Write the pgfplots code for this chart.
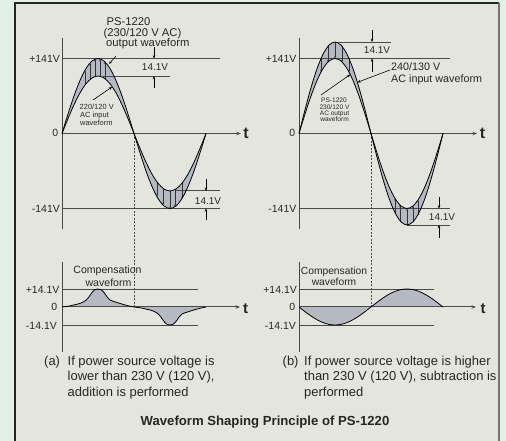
\documentclass[border=0pt]{standalone}
\usepackage{pgfplots}
\pgfplotsset{compat=1.18}
\usepackage{pgfplotstable}
\usetikzlibrary{arrows.meta}
\usepackage{fontspec}
\setmainfont{Liberation Sans}

\definecolor{outerbg}{HTML}{E1F1E7}
\definecolor{panelbg}{HTML}{E5E5DF}
\definecolor{band}{HTML}{B5B9C2}
\definecolor{axisgray}{HTML}{4A4A4A}

\newcommand\fs[1]{\fontsize{#1}{#1}\selectfont}

% upper waveforms: degrees, output (141 V), input (a), input (b)
\pgfplotstableread{
deg out inA inB
0 0 0 0
15 36.49 27.95 44.52
30 70.50 54.00 86.00
45 99.70 76.37 121.62
60 122.11 93.53 148.96
75 136.20 104.32 166.14
90 141.00 108.00 172.00
105 136.20 104.32 166.14
120 122.11 93.53 148.96
135 99.70 76.37 121.62
150 70.50 54.00 86.00
165 36.49 27.95 44.52
180 0 0 0
195 -36.49 -27.95 -44.52
210 -70.50 -54.00 -86.00
225 -99.70 -76.37 -121.62
240 -122.11 -93.53 -148.96
255 -136.20 -104.32 -166.14
270 -141.00 -108.00 -172.00
285 -136.20 -104.32 -166.14
300 -122.11 -93.53 -148.96
315 -99.70 -76.37 -121.62
330 -70.50 -54.00 -86.00
345 -36.49 -27.95 -44.52
360 0 0 0
}\upper

% compensation waveform (a): addition
\pgfplotstableread{
deg v
0 0
15 0.6
30 1.6
45 2.8
52.5 3.8
60 5.3
67.5 8.0
75 11.3
82.5 13.6
90 14.1
97.5 13.6
105 11.3
112.5 8.0
120 5.5
127.5 4.5
135 3.8
150 2.3
165 1.0
180 0
195 -0.6
210 -1.6
225 -2.8
232.5 -3.8
240 -5.3
247.5 -8.0
255 -11.3
262.5 -13.6
270 -14.1
277.5 -13.6
285 -11.3
292.5 -8.0
300 -5.5
307.5 -4.5
315 -3.8
330 -2.3
345 -1.0
360 0
}\compA

% compensation waveform (b): subtraction
\pgfplotstableread{
deg v
0 0
15 -3.65
30 -7.05
45 -9.97
60 -12.21
75 -13.62
90 -14.10
105 -13.62
120 -12.21
135 -9.97
150 -7.05
165 -3.65
180 0
195 3.65
210 7.05
225 9.97
240 12.21
255 13.62
270 14.10
285 13.62
300 12.21
315 9.97
330 7.05
345 3.65
360 0
}\compB

\tikzset{
  ar/.style={-{Stealth[length=3.2bp,width=2.6bp]}, line width=0.6bp, black},
  hat/.style={-{Stealth[length=2.2bp,width=1.8bp]}, line width=0.4bp, black!80},
  ax/.style={axisgray, line width=1bp},
  refl/.style={axisgray, line width=0.9bp},
  curve/.style={black, line width=0.8bp, smooth},
}

\begin{document}
\begin{tikzpicture}[x=1bp,y=1bp]
% backgrounds
\fill[outerbg] (0,0) rectangle (506,441);
\fill[panelbg] (15,-2) rectangle (499,438);
\draw[line width=1.5bp, black!85] (15,-2) -- (15,438) -- (499,438);
\draw[line width=2bp, black!55] (499,438) -- (499,-2);

% dashed zero-crossing guides
\draw[axisgray, line width=0.9bp, dash pattern=on 2bp off 1.5bp] (134,307) -- (134,134);
\draw[axisgray, line width=0.9bp, dash pattern=on 2bp off 1.5bp] (371,307) -- (371,134);

% ===== (a) upper =====
\begin{axis}[at={(62bp,211.74bp)}, anchor=south west, x=0.4bp, y=0.532bp,
  xmin=0, xmax=470, ymin=-180, ymax=180, hide axis, clip=false]
\addplot[fill=band, draw=none, smooth] table[x=deg,y=out] {\upper};
\addplot[fill=panelbg, draw=none, smooth] table[x=deg,y=inA] {\upper};
\draw[ax] (axis cs:0,-179.5) -- (axis cs:0,179.5);
\draw[ax, -{Stealth[length=4.5bp,width=3.5bp]}] (axis cs:0,0) -- (axis cs:447.5,0);
\addplot[refl] coordinates {(0,141) (395,141)};
\addplot[refl] coordinates {(102.5,108) (270,108)};
\addplot[refl] coordinates {(0,-141) (395,-141)};
\addplot[refl] coordinates {(282.5,-108) (395,-108)};
\draw[hat] (axis cs:57.5,91.1) -- (axis cs:57.5,118.9);
\draw[hat] (axis cs:70,101.5) -- (axis cs:70,132.5);
\draw[hat] (axis cs:82.5,107.1) -- (axis cs:82.5,139.8);
\draw[hat] (axis cs:95,107.6) -- (axis cs:95,140.5);
\draw[hat] (axis cs:107.5,103.0) -- (axis cs:107.5,134.5);
\draw[hat] (axis cs:237.5,-91.1) -- (axis cs:237.5,-118.9);
\draw[hat] (axis cs:252.5,-103.0) -- (axis cs:252.5,-134.5);
\draw[hat] (axis cs:270,-108) -- (axis cs:270,-141);
\draw[hat] (axis cs:282.5,-105.4) -- (axis cs:282.5,-137.7);
\draw[hat] (axis cs:300,-93.5) -- (axis cs:300,-122.1);
\addplot[curve] table[x=deg,y=out] {\upper};
\addplot[curve] table[x=deg,y=inA] {\upper};
\draw[ar] (axis cs:230,163.5) -- (axis cs:230,141);
\draw[ar] (axis cs:230,85.5) -- (axis cs:230,108);
\draw[ar] (axis cs:360,-85.5) -- (axis cs:360,-108);
\draw[ar] (axis cs:360,-162.6) -- (axis cs:360,-141);
\end{axis}

% ===== (b) upper =====
\begin{axis}[at={(299bp,211.74bp)}, anchor=south west, x=0.4bp, y=0.532bp,
  xmin=0, xmax=470, ymin=-180, ymax=180, hide axis, clip=false]
\addplot[fill=band, draw=none, smooth] table[x=deg,y=inB] {\upper};
\addplot[fill=panelbg, draw=none, smooth] table[x=deg,y=out] {\upper};
\draw[ax] (axis cs:0,-179.5) -- (axis cs:0,179.5);
\draw[ax, -{Stealth[length=4.5bp,width=3.5bp]}] (axis cs:0,0) -- (axis cs:445,0);
\addplot[refl] coordinates {(0,141) (377.5,141)};
\addplot[refl] coordinates {(90,172) (230,172)};
\addplot[refl] coordinates {(0,-141) (377.5,-141)};
\addplot[refl] coordinates {(270,-172) (377.5,-172)};
\draw[hat] (axis cs:55,140.9) -- (axis cs:55,115.5);
\draw[hat] (axis cs:72.5,164.0) -- (axis cs:72.5,134.5);
\draw[hat] (axis cs:90,172) -- (axis cs:90,141);
\draw[hat] (axis cs:107.5,164.0) -- (axis cs:107.5,134.5);
\draw[hat] (axis cs:125,140.9) -- (axis cs:125,115.5);
\draw[hat] (axis cs:240,-149.0) -- (axis cs:240,-122.1);
\draw[hat] (axis cs:252.5,-164.0) -- (axis cs:252.5,-134.5);
\draw[hat] (axis cs:270,-172) -- (axis cs:270,-141);
\draw[hat] (axis cs:285,-166.1) -- (axis cs:285,-136.2);
\draw[hat] (axis cs:297.5,-152.6) -- (axis cs:297.5,-125.1);
\addplot[curve] table[x=deg,y=out] {\upper};
\addplot[curve] table[x=deg,y=inB] {\upper};
\draw[ar] (axis cs:182.5,194.5) -- (axis cs:182.5,172);
\draw[ar] (axis cs:182.5,115.6) -- (axis cs:182.5,141);
\draw[ar] (axis cs:350,-119.4) -- (axis cs:350,-141);
\draw[ar] (axis cs:350,-196) -- (axis cs:350,-172);
\end{axis}

% ===== (a) lower =====
\begin{axis}[at={(62bp,88.03bp)}, anchor=south west, x=0.4bp, y=1.277bp,
  xmin=0, xmax=470, ymin=-36, ymax=36, hide axis, clip=false]
\addplot[fill=band, draw=none, smooth] table[x=deg,y=v] {\compA};
\draw[ax] (axis cs:0,-35.2) -- (axis cs:0,35.2);
\draw[ax, -{Stealth[length=4.5bp,width=3.5bp]}] (axis cs:0,0) -- (axis cs:445,0);
\addplot[refl] coordinates {(0,14.1) (340,14.1)};
\addplot[refl] coordinates {(0,-14.1) (340,-14.1)};
\addplot[curve] table[x=deg,y=v] {\compA};
\end{axis}

% ===== (b) lower =====
\begin{axis}[at={(299bp,88.03bp)}, anchor=south west, x=0.4bp, y=1.277bp,
  xmin=0, xmax=470, ymin=-36, ymax=36, hide axis, clip=false]
\addplot[fill=band, draw=none, smooth] table[x=deg,y=v] {\compB};
\draw[ax] (axis cs:0,-35.2) -- (axis cs:0,35.2);
\draw[ax, -{Stealth[length=4.5bp,width=3.5bp]}] (axis cs:0,0) -- (axis cs:442.5,0);
\addplot[refl] coordinates {(0,14.1) (337.5,14.1)};
\addplot[refl] coordinates {(0,-14.1) (337.5,-14.1)};
\addplot[curve] table[x=deg,y=v] {\compB};
\end{axis}

% ===== label arrows =====
\draw[ar] (116,385) -- (109,377);
\draw[ar] (93,341) -- (112,354);
\draw[ar] (390,371) -- (357.5,358.7);
\draw[ar] (321,346) -- (350.3,366.5);

% ===== text =====
\begin{scope}[every node/.style={inner sep=0pt, text=black!85}]
% axis labels (a)
\node[anchor=base east, font=\fs{10.5}] at (60,378.2) {+141V};
\node[anchor=base east, font=\fs{10.5}] at (58.5,304.2) {0};
\node[anchor=base east, font=\fs{10.5}] at (60,228.2) {-141V};
\node[anchor=base east, font=\fs{10.5}] at (59.5,147.9) {+14.1V};
\node[anchor=base east, font=\fs{10.5}] at (57.5,130.2) {0};
\node[anchor=base east, font=\fs{10.5}] at (57,111.2) {-14.1V};
% axis labels (b)
\node[anchor=base east, font=\fs{10.5}] at (296.5,378.2) {+141V};
\node[anchor=base east, font=\fs{10.5}] at (295.5,304.2) {0};
\node[anchor=base east, font=\fs{10.5}] at (296.5,228.2) {-141V};
\node[anchor=base east, font=\fs{10.5}] at (297,147.9) {+14.1V};
\node[anchor=base east, font=\fs{10.5}] at (295.5,130.2) {0};
\node[anchor=base east, font=\fs{10.5}] at (296,111.2) {-14.1V};
% t labels
\node[anchor=base, font=\fs{16}\bfseries] at (246,302.5) {t};
\node[anchor=base, font=\fs{15}\bfseries] at (245.5,127.5) {t};
\node[anchor=base, font=\fs{16}\bfseries] at (482.5,302.5) {t};
\node[anchor=base, font=\fs{15}\bfseries] at (483,127.5) {t};
% 14.1V labels
\node[anchor=base, font=\fs{10}] at (155,370.7) {14.1V};
\node[anchor=base, font=\fs{10}] at (208,236.4) {14.1V};
\node[anchor=base, font=\fs{10}] at (377,387.4) {14.1V};
\node[anchor=base, font=\fs{10}] at (442,220.4) {14.1V};
% (a) waveform labels
\node[anchor=base west, font=\fs{11.3}] at (106.5,415.2) {PS-1220};
\node[anchor=base west, font=\fs{11.3}] at (103.5,404.6) {(230/120 V AC)};
\node[anchor=base west, font=\fs{11.3}] at (106,394.8) {output waveform};
\node[anchor=base west, font=\fs{7.5}] at (79.5,331.5) {220/120 V};
\node[anchor=base west, font=\fs{7.5}] at (80,323.2) {AC input};
\node[anchor=base west, font=\fs{7.5}] at (80,315.5) {waveform};
% (b) waveform labels
\node[anchor=base west, font=\fs{10.8}] at (391,370.4) {240/130 V};
\node[anchor=base west, font=\fs{10.8}] at (391,358.1) {AC input waveform};
\node[anchor=base, font=\fs{6.6}] at (334,338.6) {PS-1220};
\node[anchor=base, font=\fs{6.6}] at (334.5,331.9) {230/120 V};
\node[anchor=base, font=\fs{6.6}] at (334.5,325.3) {AC output};
\node[anchor=base, font=\fs{6.6}] at (334.5,319.3) {waveform};
% compensation labels
\node[anchor=base, font=\fs{10.6}] at (107.5,167.2) {Compensation};
\node[anchor=base, font=\fs{10.6}] at (108.5,154.5) {waveform};
\node[anchor=base, font=\fs{10.3}] at (334,166.5) {Compensation};
\node[anchor=base, font=\fs{10.3}] at (334,155.5) {waveform};
% captions
\node[anchor=base west, font=\fs{13}] at (44,75) {(a)};
\node[anchor=base west, font=\fs{13}] at (67.5,75) {If power source voltage is};
\node[anchor=base west, font=\fs{13}] at (67.5,60) {lower than 230 V (120 V),};
\node[anchor=base west, font=\fs{13}] at (67.5,44.5) {addition is performed};
\node[anchor=base west, font=\fs{13}] at (282.5,75) {(b)};
\node[anchor=base west, font=\fs{13}] at (304,75) {If power source voltage is higher};
\node[anchor=base west, font=\fs{13}] at (304,60) {than 230 V (120 V), subtraction is};
\node[anchor=base west, font=\fs{13}] at (304,44.5) {performed};
% title
\node[anchor=base, font=\fs{13.2}\bfseries] at (265,15) {Waveform Shaping Principle of PS-1220};
\end{scope}

\pgfresetboundingbox
\useasboundingbox (0,0) rectangle (506,441);
\end{tikzpicture}
\end{document}
